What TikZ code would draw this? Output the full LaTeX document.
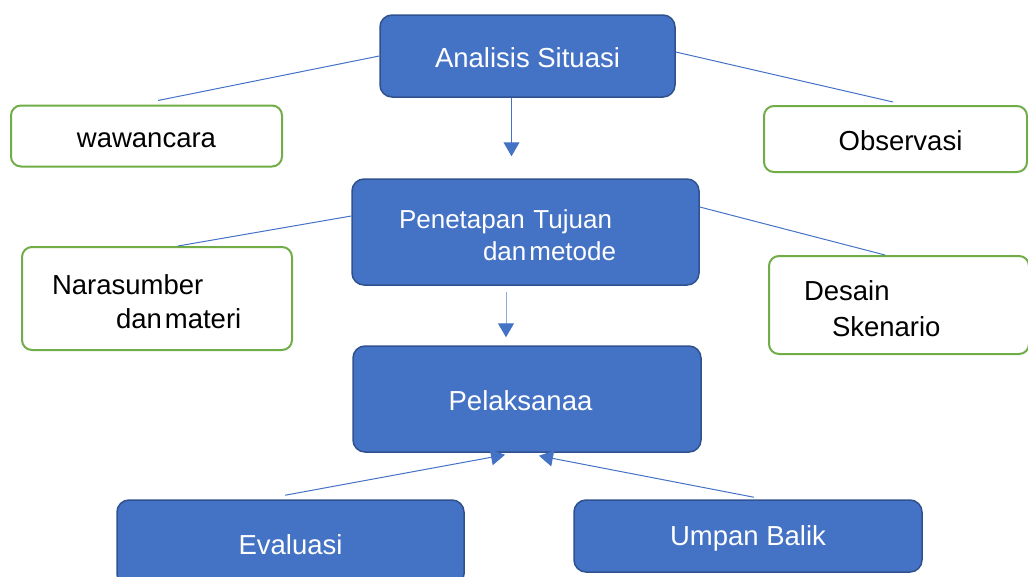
\documentclass[tikz,border=0pt]{standalone}
\usepackage{fontspec}
\setmainfont{Liberation Sans}
\usetikzlibrary{arrows.meta}
\definecolor{bluefill}{HTML}{4472C4}
\definecolor{blueborder}{HTML}{2F528F}
\definecolor{greenborder}{HTML}{70AD47}
\definecolor{lightline}{HTML}{8FAADC}
\tikzset{
  bluebox/.style={draw=blueborder, line width=1.5pt, fill=bluefill, rounded corners=12pt,
    text=white, font=\fontsize{27.5}{33}\selectfont, inner sep=0pt},
  greenbox/.style={draw=greenborder, line width=2pt, fill=white, rounded corners=10pt,
    text=black, font=\fontsize{27.5}{34}\selectfont, inner sep=0pt},
  conn/.style={draw=bluefill, line width=1pt},
  arr/.style={draw=bluefill, line width=1pt, -{Triangle[length=14pt,width=16pt,color=bluefill]}}
}
\begin{document}
\begin{tikzpicture}[x=1pt,y=-1pt]
\useasboundingbox (0,0) rectangle (1028,576);
% nodes
\node[bluebox, minimum width=295pt, minimum height=82pt] (ana) at (527.5,56) {\rule{0pt}{24pt}Analisis Situasi};
\node[greenbox, minimum width=271pt, minimum height=61pt] (waw) at (146.5,136) {\rule{0pt}{24pt}wawancara};
\node[greenbox, minimum width=263pt, minimum height=66pt] (obs) at (895.5,139) {\rule{0pt}{24pt}\hspace*{10pt}Observasi};
\node[bluebox, minimum height=106pt, text width=347pt, align=left, font=\fontsize{26}{32}\selectfont] (pen) at (525.5,232)
  {\rule{0pt}{26pt}\hspace*{47pt}Penetapan Tujuan\\\hspace*{131pt}dan\hspace{3pt}metode};
\node[greenbox, minimum height=103pt, text width=270pt, align=left] (nar) at (157,298.5)
  {\rule{0pt}{27pt}\hspace*{30pt}Narasumber\\\hspace*{94pt}dan\hspace{3pt}materi};
\node[greenbox, minimum height=98pt, text width=260pt, align=left, font=\fontsize{27.5}{36}\selectfont] (des) at (899,305)
  {\rule{0pt}{27pt}\hspace*{35pt}Desain\\\hspace*{63pt}Skenario};
\node[bluebox, minimum width=348pt, minimum height=106pt] (pel) at (527,399) {\rule{0pt}{24pt}Pelaksanaa\hspace*{13pt}};
\node[bluebox, minimum width=347pt, minimum height=86pt] (eva) at (290.5,543) {\rule{0pt}{24pt}Evaluasi};
\node[bluebox, minimum width=348pt, minimum height=72pt] (ump) at (748,536) {\rule{0pt}{24pt}Umpan Balik};
% connectors
\draw[conn] ([xshift=11.5pt,yshift=4pt]waw.north) -- (ana.west);
\draw[conn] ([yshift=4pt]ana.east) -- ([xshift=-2.5pt,yshift=3pt]obs.north);
\draw[conn] ([xshift=21pt]nar.north) -- ([yshift=16pt]pen.west);
\draw[conn] ([yshift=25pt]pen.east) -- ([xshift=-14pt]des.north);
\draw[arr] ([xshift=-16pt]ana.south) -- ([xshift=-14pt,yshift=22pt]pen.north);
\draw[arr, draw=lightline] ([xshift=-19.5pt,yshift=-6pt]pen.south) -- ([xshift=-21pt,yshift=8pt]pel.north);
\draw[arr] ([xshift=-5.5pt,yshift=4pt]eva.north) -- ([xshift=-22pt,yshift=-2pt]pel.south);
\draw[arr] ([xshift=6pt,yshift=2pt]ump.north) -- ([xshift=12pt,yshift=-3pt]pel.south);
\end{tikzpicture}
\end{document}
